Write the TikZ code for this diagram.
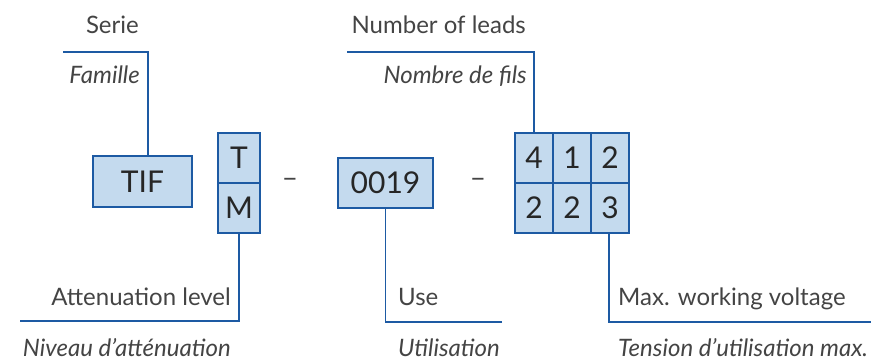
\documentclass[tikz,border=0pt]{standalone}
\usepackage{fontspec}
\setmainfont{Lato}
\definecolor{boxfill}{HTML}{C4DAEE}
\definecolor{boxline}{HTML}{1D5AA3}
\definecolor{txtgray}{HTML}{444444}
\begin{document}
\begin{tikzpicture}[x=1pt,y=-1pt,
  cell/.style={draw=boxline,fill=boxfill,line width=2.6pt,inner sep=0pt,font=\fontsize{30}{32}\selectfont,text=black!85},
  conn/.style={draw=boxline,line width=1.8pt},
  lab/.style={inner sep=0pt,font=\fontsize{24}{28}\selectfont,text=txtgray},
  ilab/.style={lab,font=\fontsize{24}{28}\selectfont\itshape}]
\useasboundingbox (0,0) rectangle (871,360);
% boxes
\node[cell,minimum width=99pt,minimum height=51pt] (tif) at (142.5,181.5) {TIF};
\node[cell,minimum width=42pt,minimum height=50pt] (t) at (239,158) {T};
\node[cell,minimum width=42pt,minimum height=50pt] (m) at (239,208) {M};
\node[cell,minimum width=95pt,minimum height=50pt] (use) at (385.5,183) {0019};
\node[cell,minimum width=38pt,minimum height=50pt] (a1) at (534,158) {4};
\node[cell,minimum width=38pt,minimum height=50pt] (a2) at (572,158) {1};
\node[cell,minimum width=38pt,minimum height=50pt] (a3) at (610,158) {2};
\node[cell,minimum width=38pt,minimum height=50pt] (b1) at (534,208) {2};
\node[cell,minimum width=38pt,minimum height=50pt] (b2) at (572,208) {2};
\node[cell,minimum width=38pt,minimum height=50pt] (b3) at (610,208) {3};
% dashes
\node[lab,font=\fontsize{28}{30}\selectfont] (d1) at (290,183) {–};
\node[lab,font=\fontsize{28}{30}\selectfont] (d2) at (478,183) {–};
% labels
\node[lab,anchor=base east] (serie) at (139,33) {Serie};
\node[ilab,anchor=base east] (famille) at (140,83) {Famille};
\node[lab,anchor=base east] (leads) at (526,33) {Number of leads};
\node[ilab,anchor=base east] (fils) at (527,83) {Nombre de fils};
\node[lab,anchor=base east] (att) at (231,305) {Attenuation level};
\node[ilab,anchor=base east] (niveau) at (231,356) {Niveau d’atténuation};
\node[lab,anchor=base west] (uselab) at (398,305) {Use};
\node[ilab,anchor=base west] (util) at (398,356) {Utilisation};
\node[lab,anchor=base west] (volt) at (618,305) {Max. working voltage};
\node[ilab,anchor=base west] (tension) at (618,356) {Tension d’utilisation max.};
% connector coordinates
\coordinate (c1) at (63,52);
\coordinate (c1x) at (148,0);
\coordinate (c2) at (347,52);
\coordinate (c3) at (20,321);
\coordinate (c4) at (502,322);
\coordinate (c5) at (871,322);
\coordinate (c5x) at (609,0);
% connectors
\draw[conn] (c1) -| (c1x |- tif.north);
\draw[conn] (c2) -| (a1.north);
\draw[conn] (c3) -| (m.south);
\draw[conn] (c4) -| (use.south);
\draw[conn] (c5) -| (c5x |- b3.south);
\end{tikzpicture}
\end{document}
